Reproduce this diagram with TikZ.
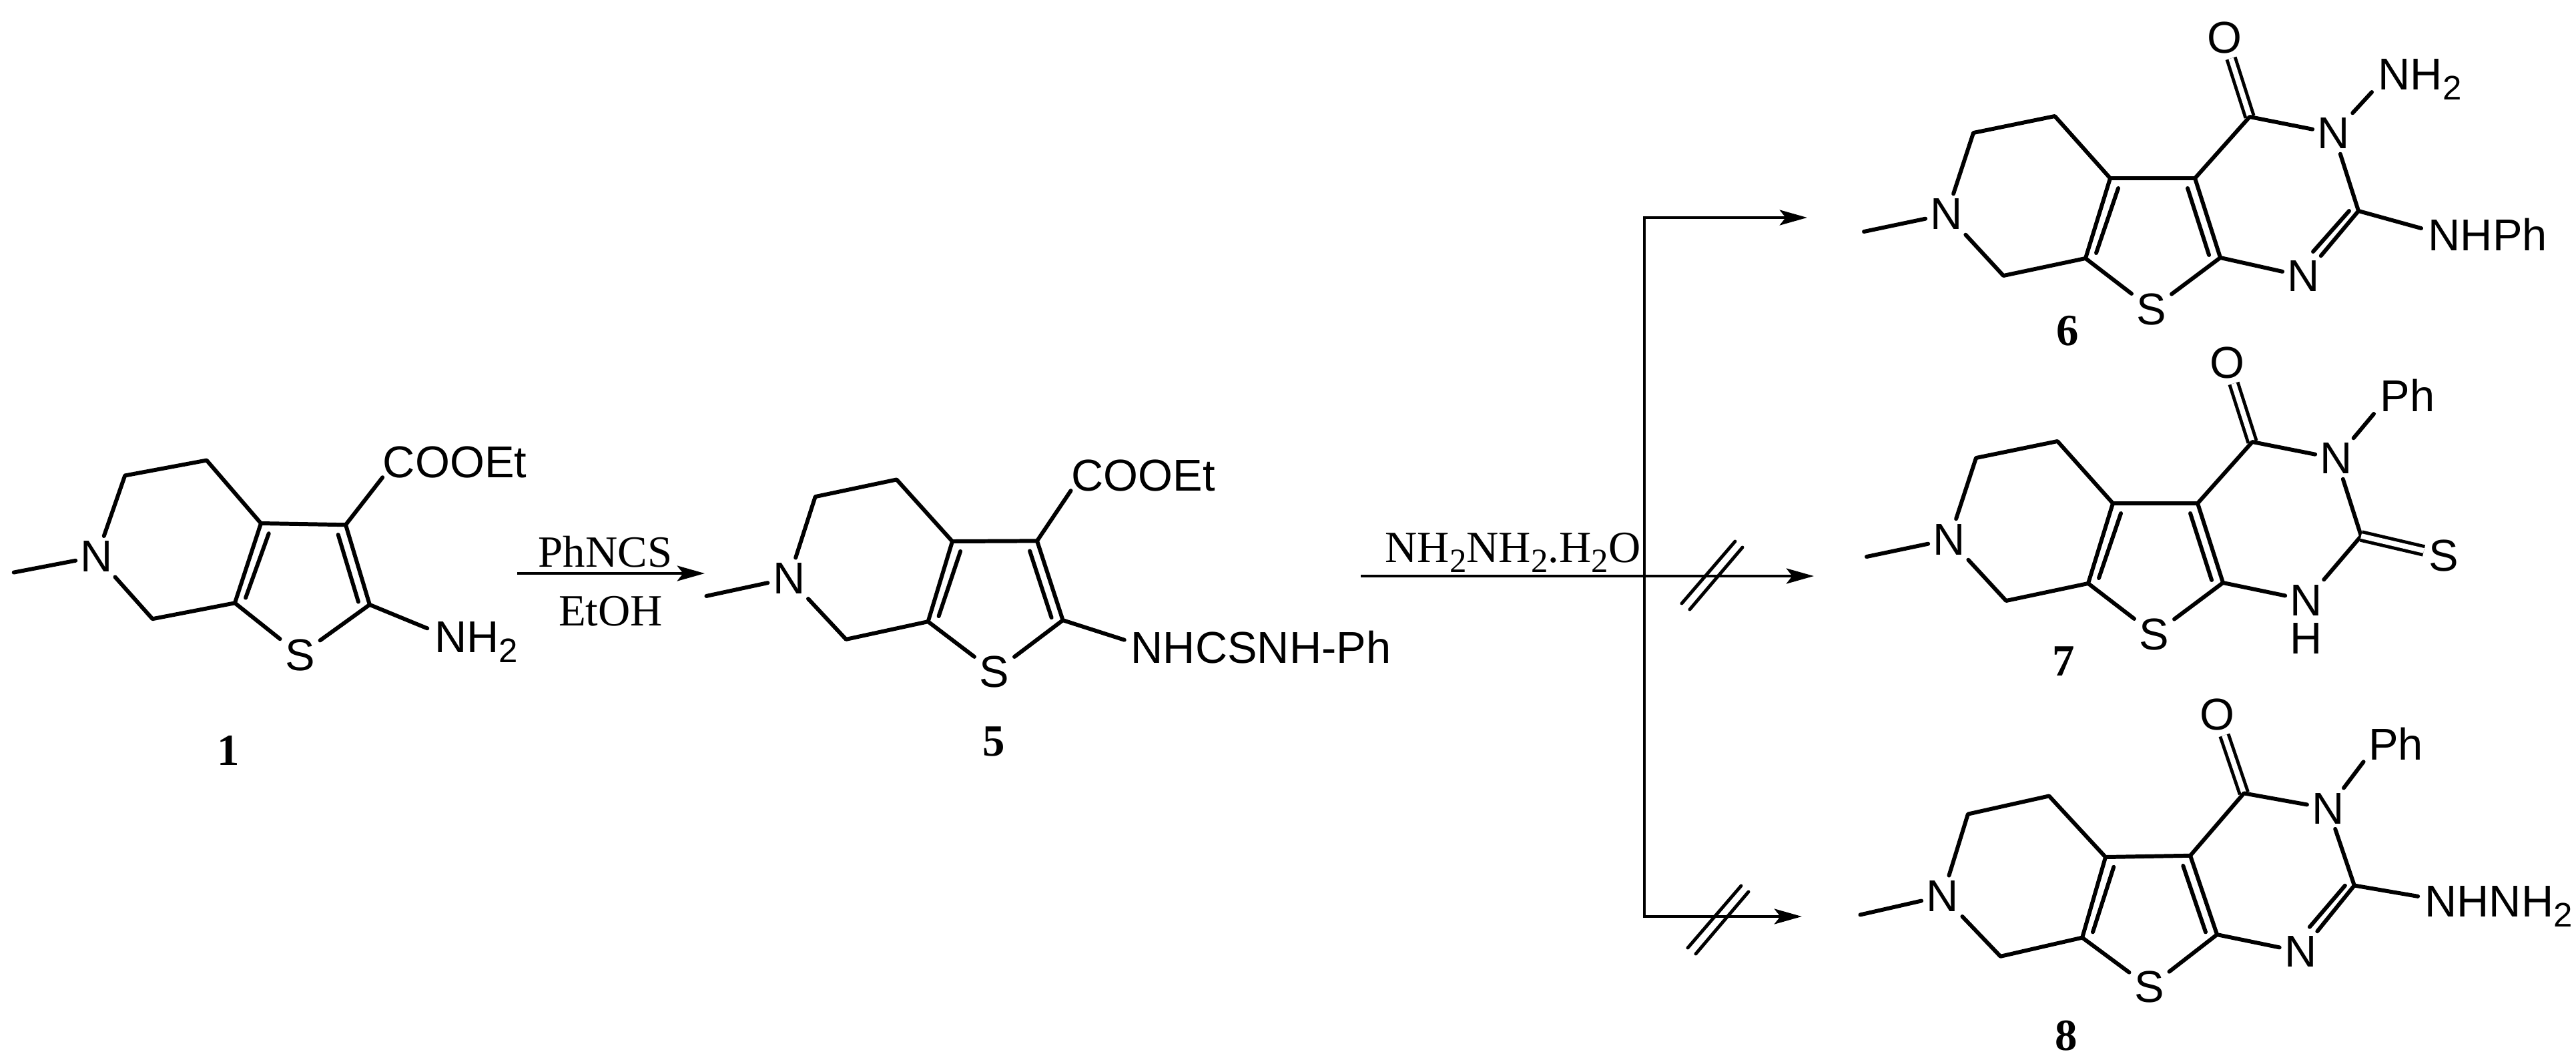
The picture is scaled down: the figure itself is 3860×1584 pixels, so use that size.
\documentclass[tikz,border=0pt]{standalone}
\usepackage{fontspec}
\setmainfont{Liberation Serif}
\newfontfamily\atomfont{Liberation Sans}
\usetikzlibrary{arrows.meta}

\tikzset{
    atom/.style={inner sep=2pt,font=\atomfont\fontsize{19}{23}\selectfont},
    atomgroup/.style={inner sep=0pt,anchor=base west,font=\atomfont\fontsize{19}{23}\selectfont},
    reagent/.style={inner sep=0pt,font=\fontsize{19}{23}\selectfont},
    cpdnum/.style={inner sep=0pt,font=\fontsize{19}{23}\selectfont\bfseries},
    bond/.style={line width=1.7pt,line cap=round,line join=round},
    dbond/.style={line width=1.4pt,double,double distance=2.2pt},
    rxn/.style={line width=1.4pt,-{Stealth[length=11.7pt,width=6.5pt,inset=2.5pt]}},
    hashmark/.style={line width=1.4pt,line cap=round}
}

\newcommand{\subtwo}{\raisebox{-4.3pt}{\fontsize{14.5}{16}\selectfont 2}}

\newcommand{\corering}{
    \coordinate (c4a) at (0,0);
    \coordinate (c3) at (127,0);
    \coordinate (c2) at (165,119);
    \coordinate (c7a) at (-37,120);
    \coordinate (c7) at (-160,146);
    \coordinate (c5) at (-83,-93);
    \coordinate (c4) at (-205,-68);
    \coordinate (me) at (-369,80);
    \node[atom] (n6) at (-245,54) {N};
    \node[atom] (s1) at (62,196) {S};
    \draw[bond] (me) -- (n6) -- (c4) -- (c5) -- (c4a) -- (c3) -- (c2) -- (s1) -- (c7a) -- (c4a);
    \draw[bond] (n6) -- (c7) -- (c7a);
    \draw[bond] ([shift={(12,15)}]c4a) -- ([shift={(16,-8)}]c7a);
    \draw[bond] ([shift={(-11,15)}]c3) -- ([shift={(-17,-4)}]c2);
}

\newcommand{\pyrimring}{
    \coordinate (co) at (209,-92);
    \coordinate (c2p) at (372,49);
    \node[atom] (o4) at (171,-211) {O};
    \node[atom] (n3) at (335,-67) {N};
    \draw[dbond] (co) -- (o4);
    \draw[bond] (c3) -- (co) -- (n3) -- (c2p);
}

\newcommand{\cnbond}{
    \node[atom] (n1) at (290,147) {N};
    \draw[bond] (c2) -- (n1) -- (c2p);
    \draw[bond] ([shift={(-14,0)}]c2p) -- ([shift={(14,-37)}]n1.center);
}

\begin{document}
\begin{tikzpicture}[x=0.01cm,y=-0.01cm]
    \useasboundingbox (0,0) rectangle (3860,1584);

    \begin{scope}[shift={(391,784)},rotate=-1,name prefix=a-]
        \corering
        \node[atomgroup] (cooet) at (181,-72) {COOEt};
        \node[atomgroup] (nh2) at (263,189) {NH\subtwo};
        \draw[bond] (c3) -- (cooet.base west);
        \draw[bond] (c2) -- ([shift={(-11,-36)}]nh2.base west);
    \end{scope}
    \node[cpdnum] (numa) at (342,1124) {1};

    \begin{scope}[shift={(1427,811)},rotate=0.3,name prefix=b-]
        \corering
        \node[atomgroup] (cooet) at (178,-75) {COOEt};
        \node[atomgroup] (nhcs) at (266,184) {NHCSNH-Ph};
        \draw[bond] (c3) -- (cooet.base west);
        \draw[bond] (c2) -- ([shift={(-9,-35)}]nhcs.base west);
    \end{scope}
    \node[cpdnum] (numb) at (1489,1111) {5};

    \begin{scope}[shift={(3162,267)},name prefix=c-]
        \corering
        \pyrimring
        \cnbond
        \node[atomgroup] (nh2) at (401,-133) {NH\subtwo};
        \node[atomgroup] (nhph) at (476,108) {NHPh};
        \draw[bond] (n3) -- ([shift={(-9,4)}]nh2.base west);
        \draw[bond] (c2p) -- ([shift={(-10,-33)}]nhph.base west);
    \end{scope}
    \node[cpdnum] (numc) at (3098,496) {6};

    \begin{scope}[shift={(3166,754)},name prefix=d-]
        \corering
        \pyrimring
        \node[atom] (n1) at (290,145) {N};
        \node[atom,inner sep=0pt] (h1) at (290,202) {H};
        \node[atom] (s2) at (496,78) {S};
        \node[atomgroup] (ph) at (400,-138) {Ph};
        \draw[bond] (c2) -- (n1) -- (c2p);
        \draw[dbond] (c2p) -- (s2);
        \draw[bond] (n3) -- ([shift={(-9,4)}]ph.base west);
    \end{scope}
    \node[cpdnum] (numd) at (3092,991) {7};

    \begin{scope}[shift={(3155,1284)},rotate=1,name prefix=e-]
        \corering
        \pyrimring
        \cnbond
        \node[atomgroup] (ph) at (396,-139) {Ph};
        \node[atomgroup] (nhnh) at (476,98) {NHNH\subtwo};
        \draw[bond] (n3) -- ([shift={(-7,3)}]ph.base west);
        \draw[bond] (c2p) -- ([shift={(-9,-31)}]nhnh.base west);
    \end{scope}
    \node[cpdnum] (nume) at (3096,1552) {8};

    \coordinate (rxna) at (775,859);
    \coordinate (rxnb) at (1056,859);
    \node[reagent,anchor=base] (phncs) at (907,849) {PhNCS};
    \node[reagent,anchor=base] (etoh) at (915,937) {EtOH};
    \draw[rxn] (rxna) -- (rxnb);

    \coordinate (hydin) at (2039,863);
    \coordinate (hydout) at (2718,863);
    \coordinate (branchtop) at (2464,326);
    \coordinate (branchlow) at (2464,1373);
    \coordinate (toptip) at (2708,326);
    \coordinate (lowtip) at (2700,1373);
    \node[reagent,anchor=base west] (hydrazine) at (2075,842) {NH\subtwo NH\subtwo.H\subtwo O};
    \draw[rxn] (hydin) -- (hydout);
    \draw[rxn] (branchlow) -- (branchtop) -- (toptip);
    \draw[rxn] (branchtop) -- (branchlow) -- (lowtip);

    \coordinate (hashb) at (2566,862);
    \coordinate (hashc) at (2575,1378);
    \foreach \h in {hashb,hashc} {
        \draw[hashmark] ([shift={(-46,42)}]\h) -- ([shift={(34,-51)}]\h);
        \draw[hashmark] ([shift={(-34,51)}]\h) -- ([shift={(45,-42)}]\h);
    }
\end{tikzpicture}
\end{document}
